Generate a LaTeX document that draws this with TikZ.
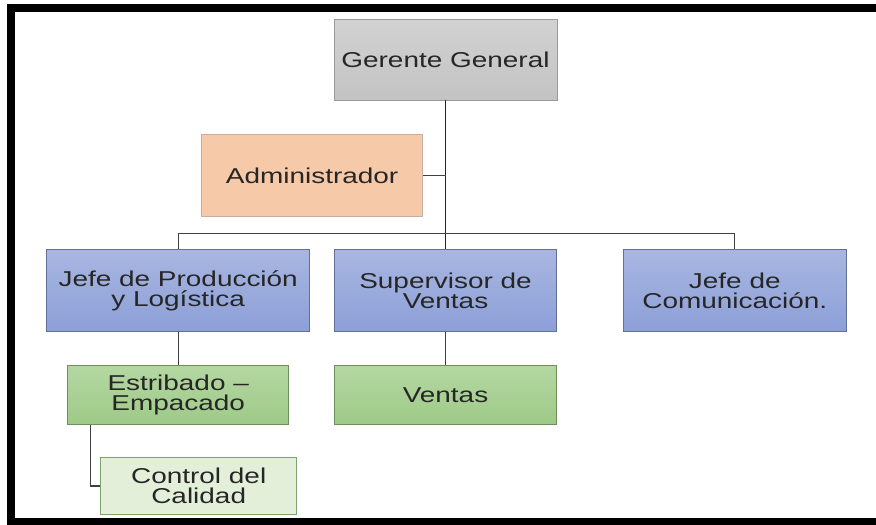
\documentclass[tikz,border=0pt]{standalone}
\usepackage{fontspec}
\setmainfont{Liberation Sans}[FakeStretch=1.3]
\usetikzlibrary{positioning}

\definecolor{grisA}{HTML}{D2D2D2}
\definecolor{grisB}{HTML}{C3C3C3}
\definecolor{salmon}{HTML}{F6C9A9}
\definecolor{azulA}{HTML}{A8B6E0}
\definecolor{azulB}{HTML}{8C9FD8}
\definecolor{verdeA}{HTML}{B4D7A2}
\definecolor{verdeB}{HTML}{9ECA87}
\definecolor{verdeC}{HTML}{E3EFD9}

\tikzset{
  box/.style={draw, line width=0.8pt, inner sep=0pt, align=center},
  gerencia/.style={box, draw=black!40, top color=grisA, bottom color=grisB,
    minimum width=223pt, minimum height=81pt},
  apoyo/.style={box, draw=salmon!70!black!70, fill=salmon,
    minimum width=221pt, minimum height=82pt},
  jefatura/.style={box, draw=azulB!70!black, top color=azulA, bottom color=azulB,
    minimum width=222pt, minimum height=82pt},
  seccion/.style={box, draw=verdeB!70!black, top color=verdeA, bottom color=verdeB,
    minimum width=222pt, minimum height=59pt},
  subseccion/.style={box, draw=verdeB!80!black, fill=verdeC,
    minimum width=196pt, minimum height=57pt},
  linea/.style={draw=black!75, line width=1.2pt}
}

\begin{document}
\begin{tikzpicture}[x=1pt, y=1pt, node distance=33pt,
    font=\fontsize{21.5}{20}\selectfont, text=black!85]
    \useasboundingbox (0,0) rectangle (876,-525);

    \node[gerencia] (ger) at (445.5,-59.5) {Gerente General};

    \node[apoyo, below left=34pt and 22.5pt of ger.south] (adm) {Administrador};

    \node[jefatura, below=149pt of ger] (sup) {Supervisor de\\Ventas};
    \node[jefatura, left=24pt of sup, minimum width=263pt] (jp) {Jefe de Producción\\y Logística};
    \node[jefatura, right=66pt of sup, minimum width=223pt] (jc) {Jefe de\\Comunicación.};

    \node[seccion, below=of jp, minimum width=221pt] (est) {Estribado –\\Empacado};
    \node[seccion, below=of sup] (ven) {Ventas};
    \node[subseccion, below right=32pt and 33pt of est.south west] (ctrl) {Control del\\Calidad};

    \coordinate[above=16pt of sup.north] (bus);

    \draw[linea, line width=1.7pt, black!85] (ger.south) -- (sup.north);
    \draw[linea] (adm.east) -- (adm.east -| ger.south);
    \draw[linea] (jp.north) |- (bus) -| (jc.north);
    \draw[linea] (jp.south) -- (est.north);
    \draw[linea] (sup.south) -- (ven.north);
    \draw[linea] ([xshift=23pt]est.south west) |- (ctrl.west);

    % marco
    \draw[line width=8pt] (876,-8) -| (11,-521.5) -- (876,-521.5);
\end{tikzpicture}
\end{document}
